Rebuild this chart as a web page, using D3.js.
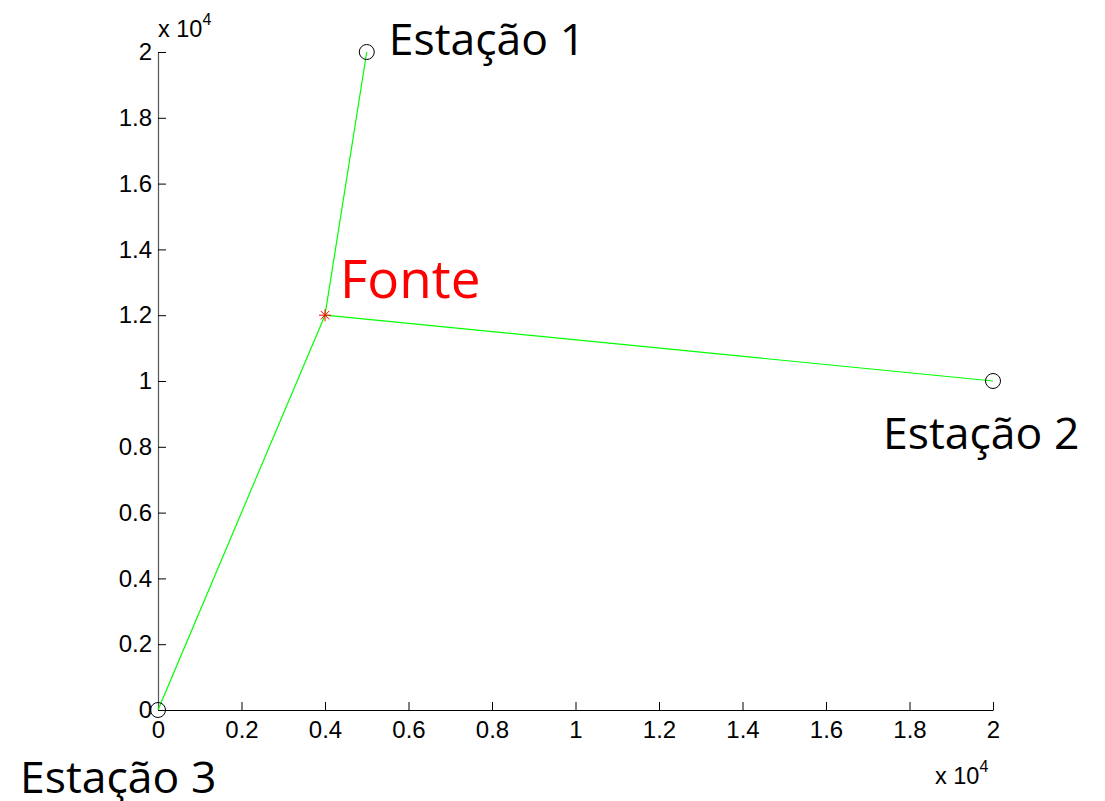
<!DOCTYPE html>
<html lang="pt">
<head>
    <meta charset="UTF-8">
    <title>Estações e Fonte</title>
    <style>
        body {
            margin: 0;
            background: #fff;
        }
        svg {
            display: block;
        }
        .tick text {
            font-family: 'Liberation Sans', Arial, sans-serif;
            font-size: 24px;
            fill: #000;
        }
        .lbl {
            font-family: 'Open Sans', 'Noto Sans', sans-serif;
            font-size: 44.5px;
        }
        .expo {
            font-family: 'Liberation Sans', Arial, sans-serif;
            font-size: 23.5px;
        }
    </style>
    <script src="https://d3js.org/d3.v7.min.js"></script>
</head>
<body>
    <svg id="chart" width="1105" height="801"></svg>

    <script>
        // station positions (m)
        var stationNames = ['Estação 1', 'Estação 2', 'Estação 3'];
        var stationX = [5000, 20000, 0];
        var stationY = [20000, 10000, 0];

        // source position
        var sourceName = 'Fonte';
        var sourceX = 4000;
        var sourceY = 12000;

        var tickValues = [0, 2000, 4000, 6000, 8000, 10000, 12000, 14000, 16000, 18000, 20000];

        var svg = d3.select('#chart');
        var mLeft = 158, mRight = 993, mTop = 52, mBottom = 710;

        var x = d3.scaleLinear().domain([0, 20000]).range([mLeft, mRight]);
        var y = d3.scaleLinear().domain([0, 20000]).range([mBottom, mTop]);

        var fmt = function (d) { return d3.format('~g')(d / 10000); };

        // axes, ticks pointing inward like matlab
        svg.append('g')
            .attr('transform', 'translate(0,' + mBottom + ')')
            .call(d3.axisBottom(x).tickValues(tickValues).tickFormat(fmt).tickSizeInner(-8).tickSizeOuter(0).tickPadding(11));
        var yAxis = svg.append('g')
            .attr('transform', 'translate(' + mLeft + ',0)')
            .call(d3.axisLeft(y).tickValues(tickValues).tickFormat(fmt).tickSizeInner(-8).tickSizeOuter(0).tickPadding(6));

        svg.selectAll('.domain').attr('stroke', '#000').attr('stroke-width', 1.2);
        svg.selectAll('.tick line').attr('stroke', '#000');
        yAxis.selectAll('.domain').attr('stroke', '#555');

        // exponent labels
        var expTop = svg.append('text')
            .attr('class', 'expo')
            .attr('x', mLeft).attr('y', 37);
        expTop.append('tspan').text('x 10');
        expTop.append('tspan').attr('dy', -12).style('font-size', '16px').text('4');

        var expBot = svg.append('text')
            .attr('class', 'expo')
            .attr('x', 935).attr('y', 784);
        expBot.append('tspan').text('x 10');
        expBot.append('tspan').attr('dy', -12).style('font-size', '16px').text('4');

        // green lines from source to every station
        stationX.forEach(function (sx, i) {
            svg.append('line')
                .attr('x1', x(sourceX)).attr('y1', y(sourceY))
                .attr('x2', x(sx)).attr('y2', y(stationY[i]))
                .attr('stroke', '#00ff00')
                .attr('stroke-width', 1.2);
        });

        // station circles
        stationX.forEach(function (sx, i) {
            svg.append('circle')
                .attr('cx', x(sx)).attr('cy', y(stationY[i]))
                .attr('r', 7.5)
                .attr('fill', 'none')
                .attr('stroke', '#000')
                .attr('stroke-width', 1);
        });

        // source asterisk
        var sx0 = x(sourceX), sy0 = y(sourceY), s = 6;
        [[-s, 0, s, 0], [0, -s, 0, s], [-s * 0.7, -s * 0.7, s * 0.7, s * 0.7], [-s * 0.7, s * 0.7, s * 0.7, -s * 0.7]].forEach(function (l) {
            svg.append('line')
                .attr('x1', sx0 + l[0]).attr('y1', sy0 + l[1])
                .attr('x2', sx0 + l[2]).attr('y2', sy0 + l[3])
                .attr('stroke', '#ff0000')
                .attr('stroke-width', 1);
        });

        // text labels (offsets in px from each point)
        var labelDx = [22, -110, -138];
        var labelDy = [3, 68, 83];
        stationNames.forEach(function (name, i) {
            svg.append('text')
                .attr('class', 'lbl')
                .attr('x', x(stationX[i]) + labelDx[i])
                .attr('y', y(stationY[i]) + labelDy[i])
                .text(name);
        });
        svg.append('text')
            .attr('class', 'lbl')
            .attr('x', x(sourceX) + 15)
            .attr('y', y(sourceY) - 17)
            .attr('fill', '#ff0000')
            .style('font-size', '53px')
            .text(sourceName);
    </script>
</body>
</html>
